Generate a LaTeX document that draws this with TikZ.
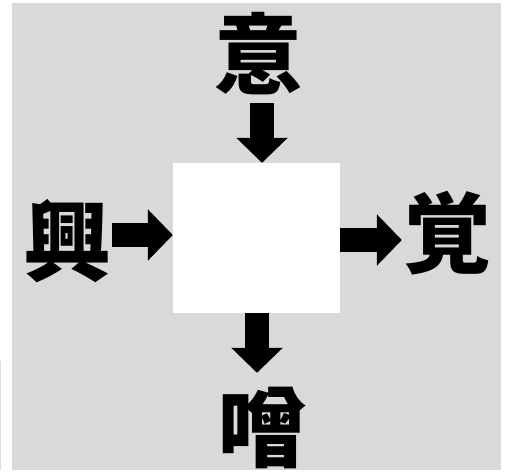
\documentclass[tikz,border=0pt]{standalone}
\usepackage{fontspec}
\newfontfamily\cjk{Noto Sans CJK JP}
\usetikzlibrary{arrows.meta}
\definecolor{bggray}{HTML}{D9D9D9}
\definecolor{edgegray}{HTML}{DDDDDD}
\tikzset{
  kanji/.style={inner sep=0pt, font=\cjk\bfseries\fontsize{88}{88}\selectfont, text height=77.4pt, text depth=10.6pt, text width=88pt, align=center},
  blockarrow/.style={line width=24pt, -{Triangle[width=50pt,length=25pt]}, black},
}
\begin{document}
\begin{tikzpicture}[x=1pt,y=-1pt]
\useasboundingbox (0,0) rectangle (508,471);
\fill[bggray] (12,3) rectangle (501,470);
\draw[edgegray, line width=1pt] (0.5,361) -- (0.5,470);
\node[fill=white, minimum width=167pt, minimum height=150pt, inner sep=0pt] (box) at (256.5,238) {};
\node[kanji] (i) at (258,54) {意};
\node[kanji] (kou) at (67,241) {興};
\node[kanji] (kaku) at (447,233) {覚};
\node[kanji] (so) at (262,427) {噌};
\coordinate (t1) at ([xshift=5.5pt]box.north);
\draw[blockarrow] ([yshift=-5pt]t1 |- i.south) -- (t1);
\coordinate (t2) at ([yshift=3pt]box.west);
\draw[blockarrow] ([xshift=1pt]t2 -| kou.east) -- (t2);
\coordinate (t3) at ([yshift=-2pt]box.east);
\draw[blockarrow] (t3) -- ([xshift=-1pt]t3 -| kaku.west);
\coordinate (t4) at ([xshift=0.5pt]box.south);
\draw[blockarrow] (t4) -- ([yshift=10pt]t4 |- so.north);
\end{tikzpicture}
\end{document}
